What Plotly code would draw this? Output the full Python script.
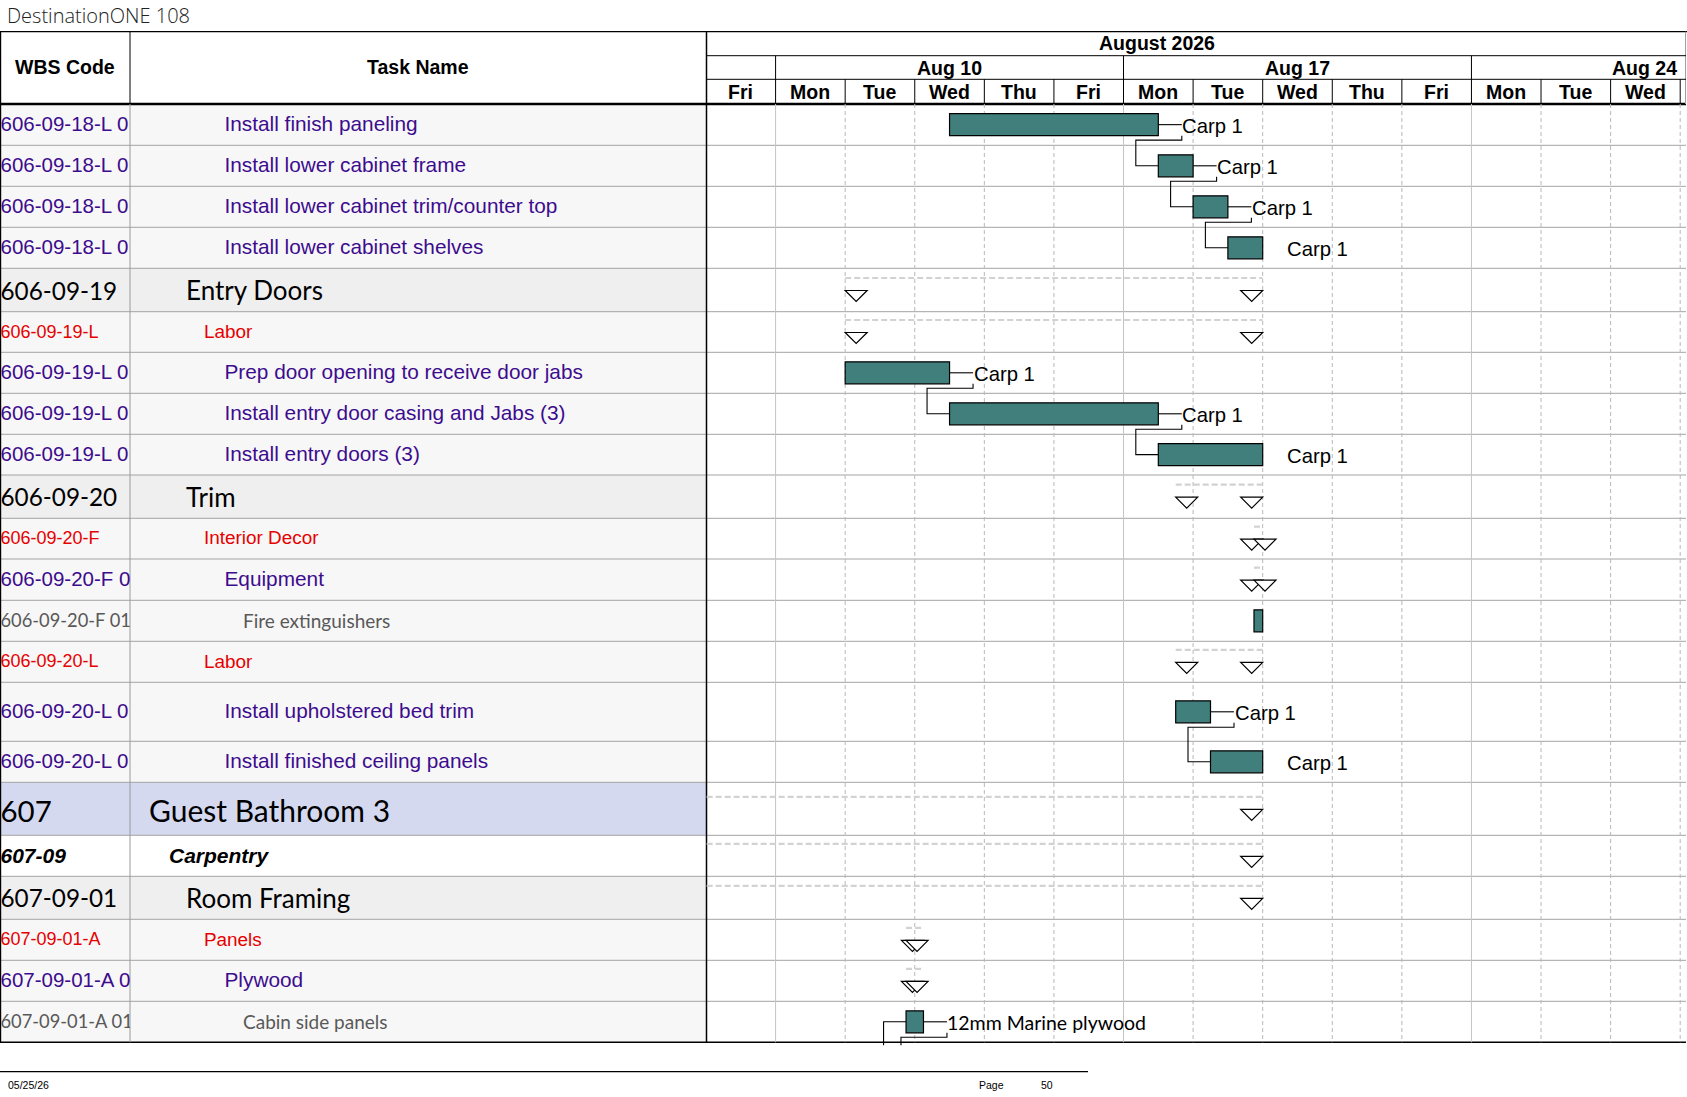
import pandas as pd
import plotly.graph_objects as go

W, H = 1687, 1097

# ---------------- data ----------------
TITLE = "DestinationONE 108"
HEADER_WBS = "WBS Code"
HEADER_TASK = "Task Name"
MONTH_LABEL = "August 2026"
WEEK_LABELS = ["Aug 10", "Aug 17", "Aug 24"]
WEEK_STARTS = ["2026-08-10", "2026-08-17", "2026-08-24"]
DAY_LABELS = ["Fri", "Mon", "Tue", "Wed", "Thu", "Fri", "Mon", "Tue", "Wed", "Thu", "Fri",
              "Mon", "Tue", "Wed"]
DAY_DATES = ["2026-08-07", "2026-08-10", "2026-08-11", "2026-08-12", "2026-08-13", "2026-08-14",
             "2026-08-17", "2026-08-18", "2026-08-19", "2026-08-20", "2026-08-21",
             "2026-08-24", "2026-08-25", "2026-08-26"]
VIEW_START = "2026-08-07 00:00"
VIEW_END = "2026-08-27 02:00"

WBS_CODES = ["606-09-18-L 0", "606-09-18-L 0", "606-09-18-L 0", "606-09-18-L 0",
             "606-09-19", "606-09-19-L", "606-09-19-L 0", "606-09-19-L 0", "606-09-19-L 0",
             "606-09-20", "606-09-20-F", "606-09-20-F 0", "606-09-20-F 01", "606-09-20-L",
             "606-09-20-L 0", "606-09-20-L 0", "607", "607-09", "607-09-01", "607-09-01-A",
             "607-09-01-A 0", "607-09-01-A 01"]
TASK_NAMES = ["Install finish paneling", "Install lower cabinet frame",
              "Install lower cabinet trim/counter top", "Install lower cabinet shelves",
              "Entry Doors", "Labor", "Prep door opening to receive door jabs",
              "Install entry door casing and Jabs (3)", "Install entry doors (3)",
              "Trim", "Interior Decor", "Equipment", "Fire extinguishers", "Labor",
              "Install upholstered bed trim", "Install finished ceiling panels",
              "Guest Bathroom 3", "Carpentry", "Room Framing", "Panels", "Plywood",
              "Cabin side panels"]
ROW_KIND = ["task", "task", "task", "task", "summary", "red", "task", "task", "task",
            "summary", "red", "task", "item", "red", "task", "task", "room", "category",
            "summary", "red", "task", "item"]
IS_SUMMARY = [False, False, False, False, True, True, False, False, False,
              True, True, True, False, True, False, False, True, True, True, True, True, False]
START = ["2026-08-12 12:00", "2026-08-17 12:00", "2026-08-18 00:00", "2026-08-18 12:00",
         "2026-08-11 00:00", "2026-08-11 00:00", "2026-08-11 00:00", "2026-08-12 12:00",
         "2026-08-17 12:00", "2026-08-17 18:00", "2026-08-18 21:00", "2026-08-18 21:00",
         "2026-08-18 21:00", "2026-08-17 18:00", "2026-08-17 18:00", "2026-08-18 06:00",
         "2026-08-03 00:00", "2026-08-03 00:00", "2026-08-03 00:00", "2026-08-11 21:00",
         "2026-08-11 21:00", "2026-08-11 21:00"]
FINISH = ["2026-08-17 12:00", "2026-08-18 00:00", "2026-08-18 12:00", "2026-08-19 00:00",
          "2026-08-19 00:00", "2026-08-19 00:00", "2026-08-12 12:00", "2026-08-17 12:00",
          "2026-08-19 00:00", "2026-08-19 00:00", "2026-08-19 00:00", "2026-08-19 00:00",
          "2026-08-19 00:00", "2026-08-19 00:00", "2026-08-18 06:00", "2026-08-19 00:00",
          "2026-08-19 00:00", "2026-08-19 00:00", "2026-08-19 00:00", "2026-08-12 03:00",
          "2026-08-12 03:00", "2026-08-12 03:00"]
RESOURCES = ["Carp 1", "Carp 1", "Carp 1", "Carp 1", "", "", "Carp 1", "Carp 1", "Carp 1",
             "", "", "", "", "", "Carp 1", "Carp 1", "", "", "", "", "", "12mm Marine plywood"]
LINKS = [(0, 1), (1, 2), (2, 3), (6, 7), (7, 8), (14, 15)]
LINK_IN_FROM_BELOW = [21]                       # predecessor is on the next page
LINK_OUT_TO_BELOW = [(21, "2026-08-12 03:00")]  # successor (next page) start
FOOTER_DATE = "05/25/26"
FOOTER_PAGE = "Page"
FOOTER_PAGE_NO = "50"

# ---------------- layout constants ----------------
ROW_EDGES = [104.0, 145.3, 186.3, 227.3, 268.3, 311.7, 352.3, 393.3, 434.3, 475.0, 518.3,
             559.0, 600.3, 641.3, 682.3, 741.3, 782.3, 835.3, 876.3, 919.3, 960.3, 1001.3,
             1042.3]
TABLE_TOP, MONTH_BOTTOM, WEEK_BOTTOM, HEADER_BOTTOM = 31.7, 55.7, 79.3, 104.0
TABLE_BOTTOM = ROW_EDGES[-1]
COL_WBS_RIGHT, CHART_LEFT, CHART_RIGHT = 130.0, 706.0, 1686.0

ARIAL = "Liberation Sans, Arial, sans-serif"
LATO = "Lato, Carlito, Calibri, sans-serif"
PURPLE, RED, GRAY, TEAL = "#3d0c8e", "#e60000", "#595959", "#417f7d"
ROWLINE, VSOLID, VDASH, SUMDASH = "#a3a3a3", "#c4c4c4", "#b8b8b8", "#d2d2d2"

STYLE = {
    "task": dict(fill="#f7f7f7", name_x=224.5, dy=1.2,
                 wbs=dict(family=ARIAL, size=20.5, color=PURPLE),
                 name=dict(family=ARIAL, size=20.8, color=PURPLE)),
    "red": dict(fill="#f7f7f7", name_x=204.0, dy=1.0,
                wbs=dict(family=ARIAL, size=18, color=RED),
                name=dict(family=ARIAL, size=18.9, color=RED)),
    "summary": dict(fill="#efefef", name_x=186.0, dy=3.5,
                    wbs=dict(family=LATO, size=24.3, color="#000000"),
                    name=dict(family=LATO, size=26, color="#000000")),
    "item": dict(fill="#f7f7f7", name_x=243.0, dy=2.0,
                 wbs=dict(family=LATO, size=18.3, color=GRAY),
                 name=dict(family=LATO, size=19, color=GRAY)),
    "room": dict(fill="#d4d9f0", name_x=149.0, dy=5.5,
                 wbs=dict(family=LATO, size=29.5, color="#000000"),
                 name=dict(family=LATO, size=30, color="#000000")),
    "category": dict(fill="#ffffff", name_x=169.0, dy=2.2,
                     wbs=dict(family=ARIAL, size=21, color="#000000", weight="bold", style="italic"),
                     name=dict(family=ARIAL, size=21, color="#000000", weight="bold", style="italic")),
}

N = len(TASK_NAMES)
YC = [(ROW_EDGES[i] + ROW_EDGES[i + 1]) / 2 for i in range(N)]


def ts(s):
    return pd.Timestamp(s)


def working_hours(a, b):
    rng = pd.date_range(ts(a), ts(b), freq="h", inclusive="left")
    return float((rng.dayofweek < 5).sum())


PX_PER_HOUR = (CHART_RIGHT - CHART_LEFT) / working_hours(VIEW_START, VIEW_END)


def shift_px(t, px):
    return ts(t) + pd.Timedelta(hours=px / PX_PER_HOUR)


def px(v):
    return v / W


def py(v):
    return 1 - v / H


fig = go.Figure()
shapes = []
annotations = []


def hline(y, x0, x1, color="black", width=1, dash=None):
    shapes.append(dict(type="line", xref="paper", yref="paper", x0=px(x0), x1=px(x1),
                       y0=py(y), y1=py(y), line=dict(color=color, width=width, dash=dash),
                       layer="below"))


def vline(x, y0, y1, color="black", width=1):
    shapes.append(dict(type="line", xref="paper", yref="paper", x0=px(x), x1=px(x),
                       y0=py(y0), y1=py(y1), line=dict(color=color, width=width), layer="below"))


# ---- table row backgrounds ----
for i in range(N):
    shapes.append(dict(type="rect", xref="paper", yref="paper", x0=0, x1=px(CHART_LEFT),
                       y0=py(ROW_EDGES[i + 1]), y1=py(ROW_EDGES[i]),
                       fillcolor=STYLE[ROW_KIND[i]]["fill"], line=dict(width=0), layer="below"))

# ---- chart body day grid ----
day_bounds = DAY_DATES[1:] + ["2026-08-27"]
for d in day_bounds:
    is_monday = ts(d).dayofweek == 0
    shapes.append(dict(type="line", xref="x", yref="y", x0=d, x1=d, y0=HEADER_BOTTOM,
                       y1=TABLE_BOTTOM, layer="below",
                       line=dict(color=VSOLID if is_monday else VDASH, width=1,
                                 dash=None if is_monday else "4px,3px")))

# ---- row lines ----
for e in ROW_EDGES[1:-1]:
    hline(e, 0, CHART_RIGHT, ROWLINE, 1)

# ---- table borders ----
hline(TABLE_TOP, 0, W, "black", 1.2)
hline(HEADER_BOTTOM, 0, CHART_RIGHT, "black", 2.5)
hline(TABLE_BOTTOM, 0, CHART_RIGHT, "black", 1.5)
vline(0.6, TABLE_TOP, TABLE_BOTTOM, "black", 1.2)
vline(COL_WBS_RIGHT, TABLE_TOP, HEADER_BOTTOM, "black", 1)
vline(COL_WBS_RIGHT, HEADER_BOTTOM, TABLE_BOTTOM, "#9a9a9a", 1)
vline(CHART_LEFT + 0.5, TABLE_TOP, TABLE_BOTTOM, "black", 1.5)
vline(CHART_RIGHT - 0.5, TABLE_TOP, HEADER_BOTTOM, "#a0a0a0", 1)
hline(MONTH_BOTTOM, CHART_LEFT, CHART_RIGHT, "black", 1)
hline(WEEK_BOTTOM, CHART_LEFT, CHART_RIGHT, "black", 1)

# ---- timescale header separators ----
for d in day_bounds:
    top = MONTH_BOTTOM if d in WEEK_STARTS else WEEK_BOTTOM
    shapes.append(dict(type="line", xref="x", yref="y", x0=d, x1=d, y0=top, y1=HEADER_BOTTOM,
                       line=dict(color="black", width=1), layer="above"))

HDR_FONT = dict(family=ARIAL, size=19.5, color="#000000", weight="bold")
for lab, d in zip(DAY_LABELS, DAY_DATES):
    annotations.append(dict(xref="x", yref="y", x=ts(d) + pd.Timedelta(hours=12),
                            y=(WEEK_BOTTOM + HEADER_BOTTOM) / 2 + 0.5, text=lab,
                            showarrow=False, font=HDR_FONT, xanchor="center", yanchor="middle"))
for lab, d in zip(WEEK_LABELS, WEEK_STARTS):
    mid = ts(d) + pd.Timedelta(hours=60)
    if ts(d) + pd.Timedelta(days=5) > ts(VIEW_END):
        annotations.append(dict(xref="x", yref="y", x="2026-08-27 00:00",
                                y=(MONTH_BOTTOM + WEEK_BOTTOM) / 2, text=lab, showarrow=False,
                                font=HDR_FONT, xanchor="right", yanchor="middle", xshift=-1))
    else:
        annotations.append(dict(xref="x", yref="y", x=mid, y=(MONTH_BOTTOM + WEEK_BOTTOM) / 2,
                                text=lab, showarrow=False, font=HDR_FONT, xanchor="center",
                                yanchor="middle"))
annotations.append(dict(xref="paper", yref="paper", x=px(1157), y=py(43.3), text=MONTH_LABEL,
                        showarrow=False, font=HDR_FONT, xanchor="center", yanchor="middle"))
annotations.append(dict(xref="paper", yref="paper", x=px(65), y=py(67), text=HEADER_WBS,
                        showarrow=False, font=HDR_FONT, xanchor="center", yanchor="middle"))
annotations.append(dict(xref="paper", yref="paper", x=px(418), y=py(67), text=HEADER_TASK,
                        showarrow=False, font=HDR_FONT, xanchor="center", yanchor="middle"))

# ---- title and footer ----
annotations.append(dict(xref="paper", yref="paper", x=px(5), y=py(15), text=TITLE,
                        showarrow=False, xanchor="left", yanchor="middle",
                        font=dict(family="Open Sans, sans-serif", size=20, color="#222222",
                                  weight=300)))
hline(1071.7, 0, 1088, "black", 1.3)
FOOT_FONT = dict(family=ARIAL, size=10.5, color="#000000")
annotations.append(dict(xref="paper", yref="paper", x=px(6), y=py(1085), text=FOOTER_DATE,
                        showarrow=False, xanchor="left", yanchor="middle", font=FOOT_FONT))
annotations.append(dict(xref="paper", yref="paper", x=px(977), y=py(1085), text=FOOTER_PAGE,
                        showarrow=False, xanchor="left", yanchor="middle", font=FOOT_FONT))
annotations.append(dict(xref="paper", yref="paper", x=px(1039), y=py(1085), text=FOOTER_PAGE_NO,
                        showarrow=False, xanchor="left", yanchor="middle", font=FOOT_FONT))

# ---- table text (clipped to columns) ----
for kind, st in STYLE.items():
    rows = [i for i in range(N) if ROW_KIND[i] == kind]
    if not rows:
        continue
    ys = [YC[i] + st["dy"] for i in rows]
    fig.add_trace(go.Scatter(x=[0.5] * len(rows), y=ys,
                             text=[WBS_CODES[i] for i in rows], mode="text",
                             textposition="middle right", textfont=st["wbs"], cliponaxis=True,
                             xaxis="x2", yaxis="y", hoverinfo="skip", showlegend=False))
    fig.add_trace(go.Scatter(x=[st["name_x"]] * len(rows), y=ys,
                             text=[TASK_NAMES[i] for i in rows], mode="text",
                             textposition="middle right", textfont=st["name"], cliponaxis=True,
                             xaxis="x3", yaxis="y", hoverinfo="skip", showlegend=False))

# ---- summary bars (dashed) ----
sx, sy = [], []
for i in range(N):
    if IS_SUMMARY[i]:
        sx += [ts(START[i]), ts(FINISH[i]), None]
        sy += [YC[i] - 12, YC[i] - 12, None]
fig.add_trace(go.Scatter(x=sx, y=sy, mode="lines", xaxis="x", yaxis="y", hoverinfo="skip",
                         line=dict(color=SUMDASH, width=2.2, dash="6px,3px"), showlegend=False))

# summary start / finish triangles
for i in range(N):
    if not IS_SUMMARY[i]:
        continue
    ends = [(FINISH[i], "M-22,-0.5L0,-0.5L-11,-11.5Z")]
    if ts(START[i]) >= ts(VIEW_START):
        ends.append((START[i], "M0,-0.5L22,-0.5L11,-11.5Z"))
    for anchor, path in ends:
        shapes.append(dict(type="path", xref="x", yref="y", xsizemode="pixel",
                           ysizemode="pixel", xanchor=anchor, yanchor=YC[i], path=path,
                           fillcolor="white", line=dict(color="black", width=1.2),
                           layer="above"))

# ---- task bars ----
bar_rows = [i for i in range(N) if not IS_SUMMARY[i]]
fig.add_trace(go.Bar(orientation="h", base=[START[i] for i in bar_rows],
                     x=[(ts(FINISH[i]) - ts(START[i])).total_seconds() * 1000 for i in bar_rows],
                     y=[YC[i] for i in bar_rows], width=22, xaxis="x", yaxis="y",
                     marker=dict(color=TEAL, line=dict(color="black", width=1.2)),
                     hoverinfo="skip", showlegend=False))

# ---- dependency links ----
RIGHT_OFF, LEFT_OFF, BAR_HALF, DROP = 23.5, 22.5, 11.0, 15.5
lx, ly = [], []
for p, s in LINKS:
    xe, xs = FINISH[p], START[s]
    xr, xl = shift_px(xe, RIGHT_OFF), shift_px(xs, -LEFT_OFF)
    lx += [ts(xe), xr, None, xr, xr, xl, xl, ts(xs), None]
    ly += [YC[p], YC[p], None, YC[p] + BAR_HALF, YC[p] + DROP, YC[p] + DROP, YC[s], YC[s], None]
for s in LINK_IN_FROM_BELOW:
    xl = shift_px(START[s], -LEFT_OFF)
    lx += [xl, xl, ts(START[s]), None]
    ly += [TABLE_BOTTOM + 3, YC[s], YC[s], None]
for p, nxt in LINK_OUT_TO_BELOW:
    xe = FINISH[p]
    xr, xl = shift_px(xe, RIGHT_OFF), shift_px(nxt, -LEFT_OFF)
    lx += [ts(xe), xr, None, xr, xr, xl, xl, None]
    ly += [YC[p], YC[p], None, YC[p] + BAR_HALF, YC[p] + DROP, YC[p] + DROP, TABLE_BOTTOM + 3, None]
fig.add_trace(go.Scatter(x=lx, y=ly, mode="lines", xaxis="x", yaxis="y", hoverinfo="skip",
                         line=dict(color="black", width=1.1), showlegend=False))

# ---- resource labels ----
for i in range(N):
    if RESOURCES[i]:
        fnt = dict(family=LATO, size=19.5, color="#000000") if ROW_KIND[i] == "item" \
            else dict(family=ARIAL, size=20.3, color="#000000")
        annotations.append(dict(xref="x", yref="y", x=ts(FINISH[i]), y=YC[i] + 1,
                                text=RESOURCES[i], showarrow=False, xanchor="left",
                                yanchor="middle", xshift=RIGHT_OFF - 1.5, font=fnt))

HIDDEN = dict(visible=True, showticklabels=False, showgrid=False, zeroline=False,
              showline=False, ticks="", fixedrange=True)
fig.update_layout(
    width=W, height=H, autosize=False,
    margin=dict(l=0, r=0, t=0, b=0, pad=0),
    paper_bgcolor="white", plot_bgcolor="rgba(0,0,0,0)",
    showlegend=False, bargap=0,
    xaxis=dict(type="date", domain=[px(CHART_LEFT), px(CHART_RIGHT)],
               range=[VIEW_START, VIEW_END], rangebreaks=[dict(bounds=["sat", "mon"])],
               anchor="y", **HIDDEN),
    xaxis2=dict(domain=[0, px(COL_WBS_RIGHT)], range=[0, COL_WBS_RIGHT], anchor="y", **HIDDEN),
    xaxis3=dict(domain=[px(COL_WBS_RIGHT), px(CHART_LEFT)], range=[COL_WBS_RIGHT, CHART_LEFT],
                anchor="y", **HIDDEN),
    yaxis=dict(domain=[0, 1], range=[H, 0], anchor="x", **HIDDEN),
    shapes=shapes, annotations=annotations,
)

fig.write_html("out.html", config={"displayModeBar": False, "staticPlot": True},
               post_script="document.body.style.margin='0';document.body.style.overflow='hidden';")
